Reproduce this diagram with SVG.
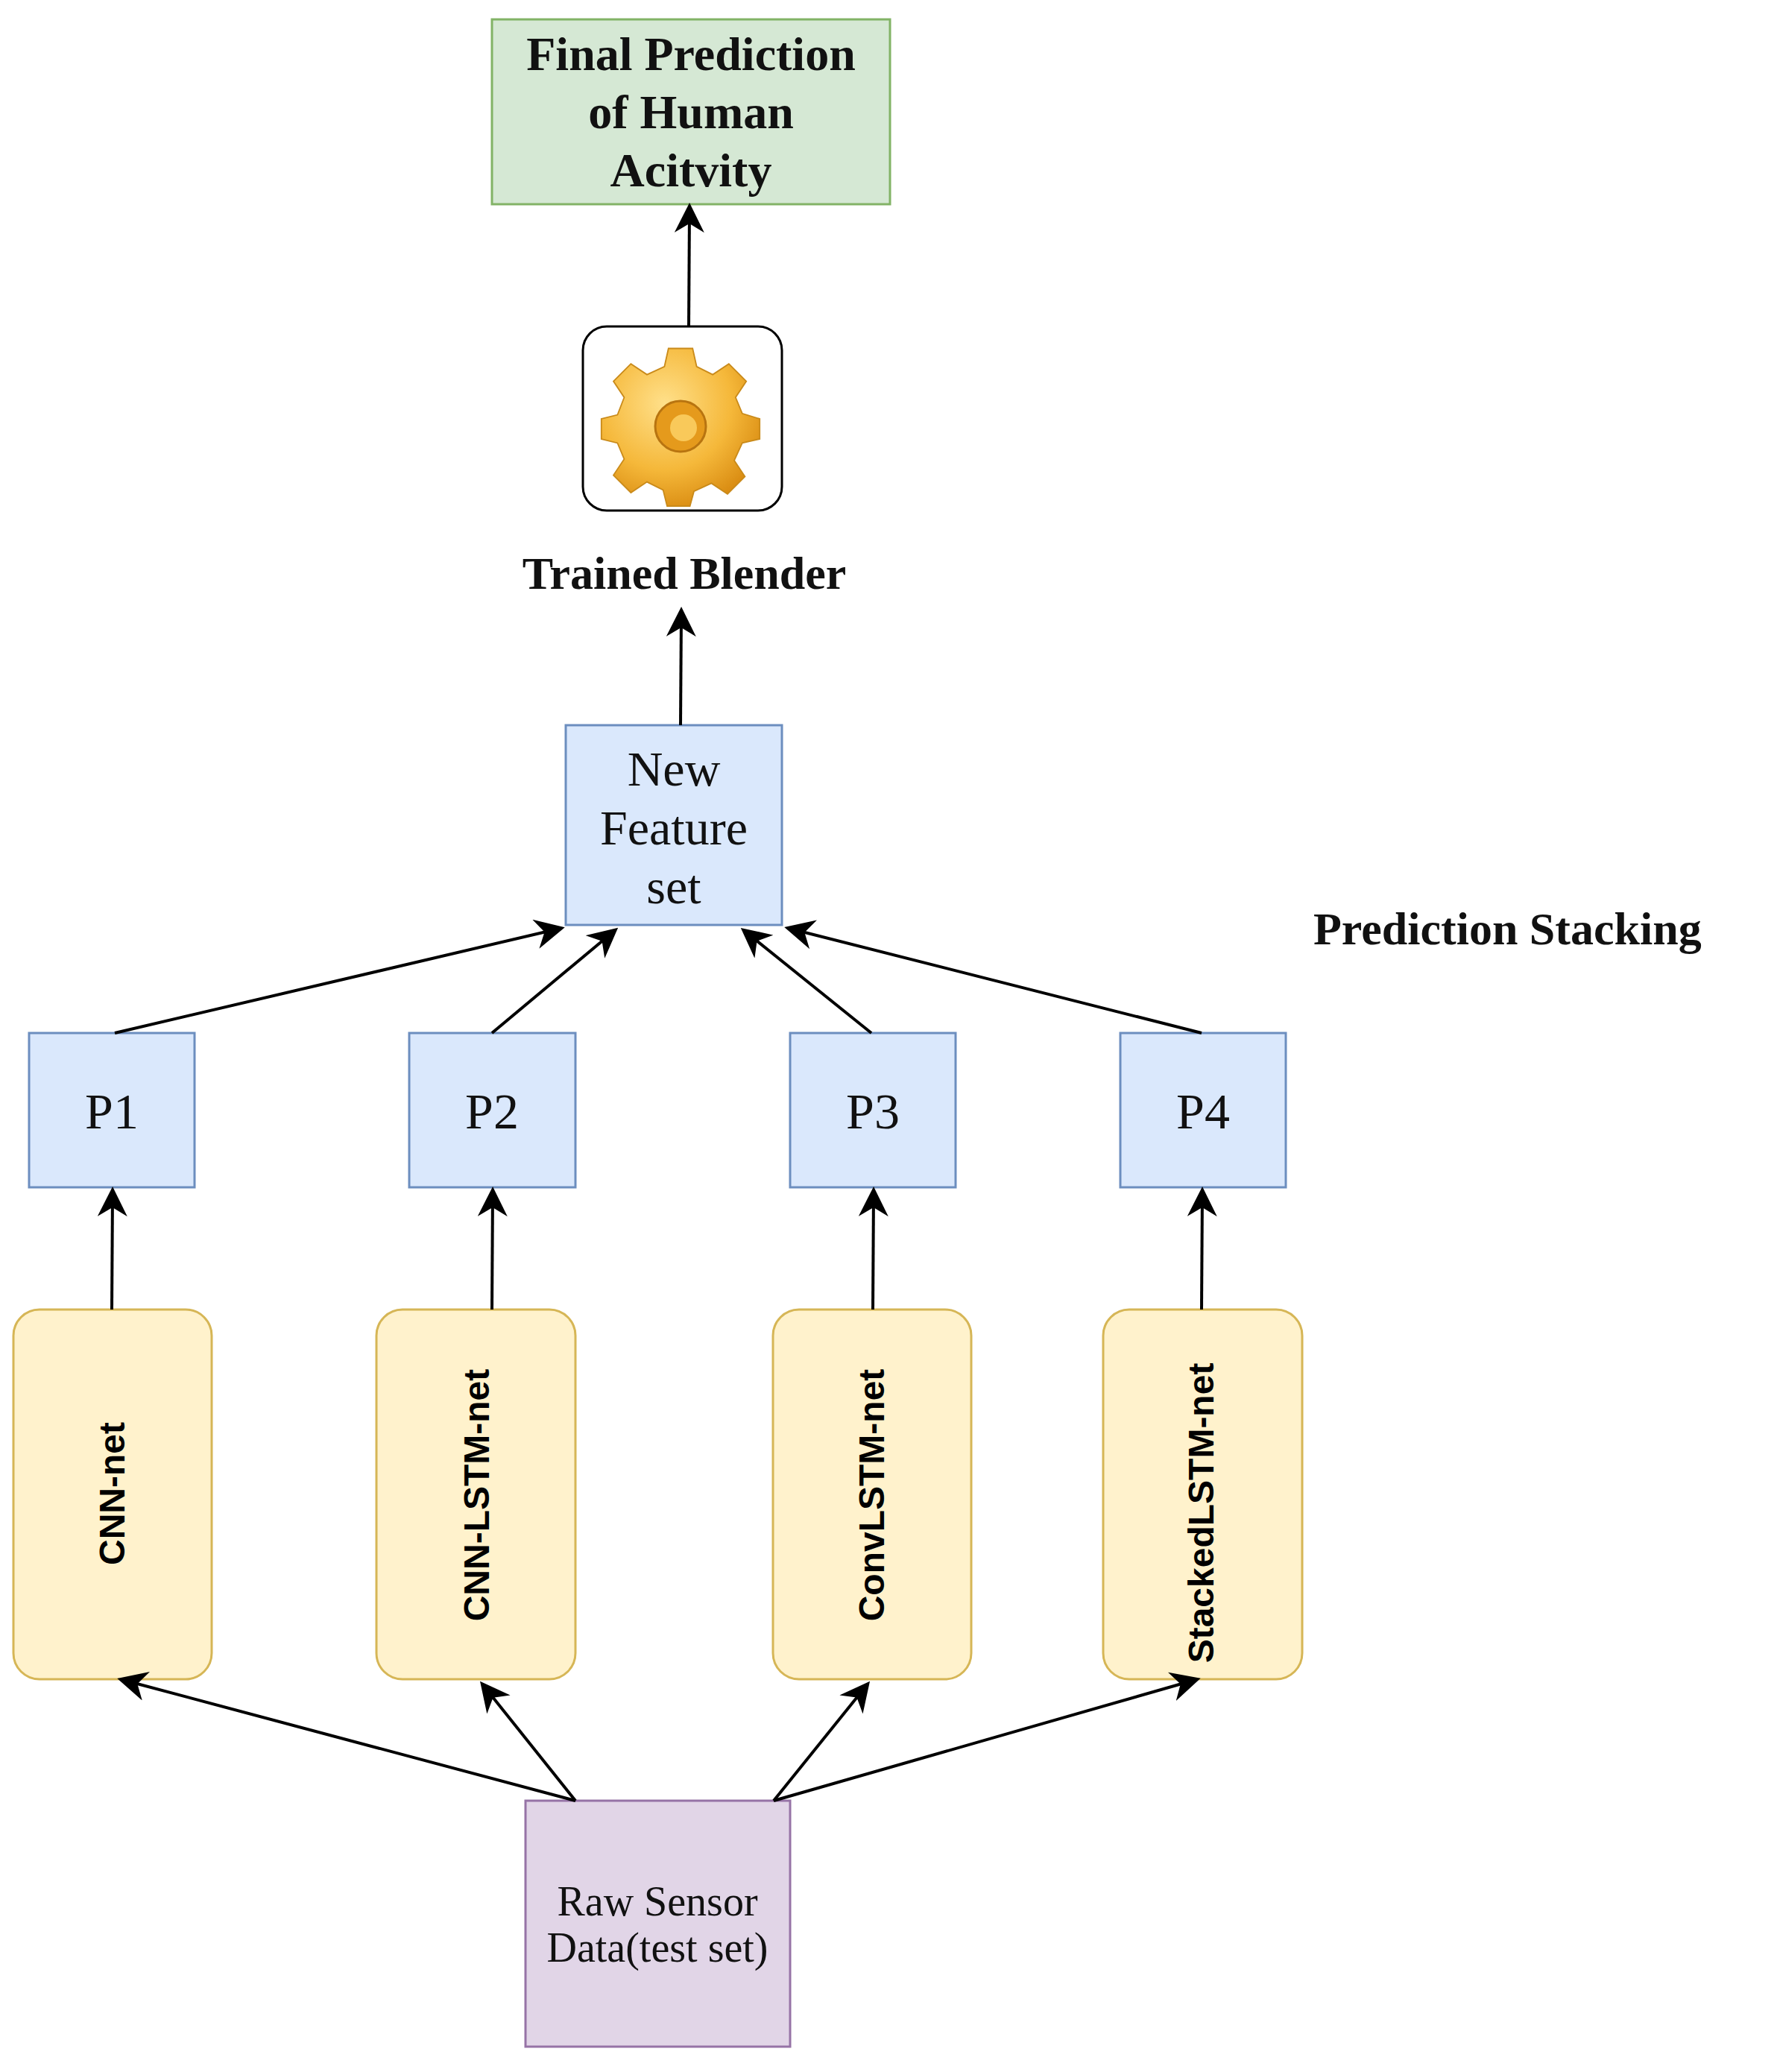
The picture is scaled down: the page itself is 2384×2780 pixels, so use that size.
<svg xmlns="http://www.w3.org/2000/svg" width="2384" height="2780" viewBox="0 0 2384 2780">
<style>
.ser{font-family:"Liberation Serif","Times New Roman",serif;fill:#111}
.b{font-weight:bold}
.sans{font-family:"Liberation Sans",Arial,sans-serif;font-weight:bold;font-size:48px;fill:#000}
.blue{fill:#dae8fc;stroke:#6c8ebf;stroke-width:3}
.yel{fill:#fff2cc;stroke:#d6b656;stroke-width:3}
.con{stroke:#000;stroke-width:4;fill:none;marker-end:url(#ah)}
</style>
<defs>
<marker id="ah" markerWidth="10" markerHeight="10" refX="8" refY="5" orient="auto" markerUnits="strokeWidth">
<path d="M0,0 L10,5 L0,10 L3,5 Z" fill="#000"/>
</marker>
<radialGradient id="gg" cx="0.4" cy="0.35" r="0.7">
<stop offset="0" stop-color="#ffe08a"/><stop offset="0.6" stop-color="#f5b83a"/><stop offset="1" stop-color="#d88a10"/>
</radialGradient>
</defs>
<rect width="2384" height="2780" fill="#fff"/>
<g id="final"><rect x="660" y="26" width="534" height="248" fill="#d5e8d4" stroke="#82b366" stroke-width="3"/>
<text class="ser b" font-size="64" text-anchor="middle"><tspan x="927" y="94">Final Prediction</tspan><tspan x="927" y="172">of Human</tspan><tspan x="927" y="250">Acitvity</tspan></text></g>
<g id="blender"><rect x="782" y="438" width="267" height="247" rx="32" fill="#fff" stroke="#000" stroke-width="3"/>
<g transform="translate(913,562)">
<path fill="url(#gg)" stroke="#c98a1a" stroke-width="2" d="M-18,-105 L18,-105 L24,-78 L48,-66 L72,-82 L98,-56 L82,-32 L92,-8 L118,0 L118,30 L92,36 L80,62 L96,86 L70,112 L46,96 L20,108 L14,130 L-20,130 L-26,106 L-50,94 L-74,110 L-100,84 L-84,60 L-94,36 L-118,30 L-118,0 L-94,-6 L-84,-32 L-100,-56 L-74,-82 L-50,-66 L-24,-78 Z" transform="scale(0.9)"/>
<circle cx="0" cy="10" r="34" fill="#e59a1c" stroke="#b87410" stroke-width="3"/>
<circle cx="4" cy="12" r="18" fill="#f9c95a"/>
</g>
<text class="ser b" font-size="62" x="918" y="790" text-anchor="middle">Trained Blender</text></g>
<g id="newfeat"><rect class="blue" x="759" y="973" width="290" height="268"/>
<text class="ser" font-size="66" text-anchor="middle"><tspan x="904" y="1054">New</tspan><tspan x="904" y="1133">Feature</tspan><tspan x="904" y="1212">set</tspan></text></g>
<g id="stacking"><text class="ser b" font-size="62" x="1762" y="1267">Prediction Stacking</text></g>
<g id="p1"><rect class="blue" x="39" y="1386" width="222" height="207"/><text class="ser" font-size="68" x="150" y="1514" text-anchor="middle">P1</text></g>
<g id="p2"><rect class="blue" x="549" y="1386" width="223" height="207"/><text class="ser" font-size="68" x="660" y="1514" text-anchor="middle">P2</text></g>
<g id="p3"><rect class="blue" x="1060" y="1386" width="222" height="207"/><text class="ser" font-size="68" x="1171" y="1514" text-anchor="middle">P3</text></g>
<g id="p4"><rect class="blue" x="1503" y="1386" width="222" height="207"/><text class="ser" font-size="68" x="1614" y="1514" text-anchor="middle">P4</text></g>
<g id="m1"><rect class="yel" x="18" y="1757" width="266" height="496" rx="35"/><text class="sans" transform="translate(167,2004) rotate(-90)" text-anchor="middle">CNN-net</text></g>
<g id="m2"><rect class="yel" x="505" y="1757" width="267" height="496" rx="35"/><text class="sans" transform="translate(656,2006) rotate(-90)" text-anchor="middle">CNN-LSTM-net</text></g>
<g id="m3"><rect class="yel" x="1037" y="1757" width="266" height="496" rx="35"/><text class="sans" transform="translate(1186,2006) rotate(-90)" text-anchor="middle">ConvLSTM-net</text></g>
<g id="m4"><rect class="yel" x="1480" y="1757" width="267" height="496" rx="35"/><text class="sans" transform="translate(1628,2030) rotate(-90)" text-anchor="middle">StackedLSTM-net</text></g>
<g id="raw"><rect x="705" y="2416" width="355" height="330" fill="#e1d5e7" stroke="#9673a6" stroke-width="3"/>
<text class="ser" font-size="56" text-anchor="middle"><tspan x="882" y="2570">Raw Sensor</tspan><tspan x="882" y="2632">Data(test set)</tspan></text></g>
<g id="connectors">
<path class="con" d="M924,438 L925,280"/>
<path class="con" d="M913,973 L914,822"/>
<path class="con" d="M154,1386 L750,1246"/>
<path class="con" d="M660,1386 L823,1250"/>
<path class="con" d="M1169,1386 L1000,1250"/>
<path class="con" d="M1612,1386 L1060,1246"/>
<path class="con" d="M150,1757 L151,1600"/>
<path class="con" d="M660,1757 L661,1600"/>
<path class="con" d="M1171,1757 L1172,1600"/>
<path class="con" d="M1612,1757 L1613,1600"/>
<path class="con" d="M772,2416 L165,2254"/>
<path class="con" d="M772,2416 L649,2262"/>
<path class="con" d="M1038,2416 L1162,2262"/>
<path class="con" d="M1038,2416 L1603,2254"/>
</g>
</svg>
